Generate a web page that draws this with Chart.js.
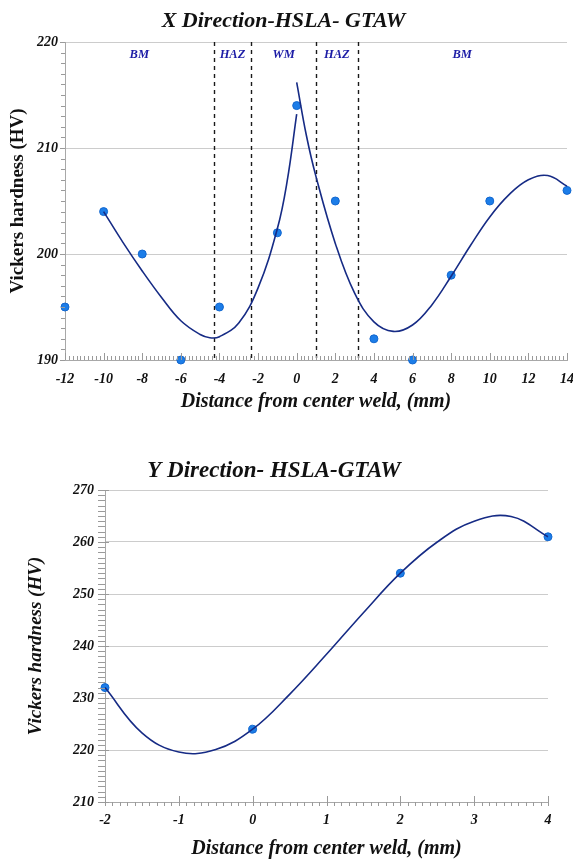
<!DOCTYPE html>
<html>
<head>
<meta charset="utf-8">
<script src="https://cdn.jsdelivr.net/npm/chart.js@4"></script>
<style>
  html, body { margin: 0; padding: 0; background: #fff; }
  canvas { display: block; }
</style>
</head>
<body>
<canvas id="chartX" width="573" height="420"></canvas>
<canvas id="chartY" width="573" height="441"></canvas>
<script>
// X direction: measured hardness
const distX = [-12, -10, -8, -6, -4, -1, 0, 2, 4, 6, 8, 10, 14];
const hvX = [195, 204, 200, 190, 195, 202, 214, 205, 192, 190, 198, 205, 206];

// X direction: fitted curves
const fitLeftDist = [-10, -9, -8, -7, -6, -5, -4.5, -4, -3, -2, -1, -0.5, 0];
const fitLeftHv = [204, 201.1, 198.4, 195.9, 193.7, 192.4, 192.1, 192.2, 193.5, 196.8, 202.4, 206.8, 213.2];
const fitRightDist = [0, 0.5, 1, 2, 3, 4, 5, 6, 7, 8, 9, 10, 11, 12, 13, 14];
const fitRightHv = [216.2, 211.2, 207.3, 201.0, 196.3, 193.6, 192.7, 193.3, 195.2, 197.9, 200.8, 203.5, 205.6, 207.0, 207.4, 206.4];

// weld zones
const zoneBounds = [-4.3, -2.35, 1.0, 3.15];
const zoneNames = ['BM', 'HAZ', 'WM', 'HAZ', 'BM'];

// Y direction: measured hardness
const distY = [-2, 0, 2, 4];
const hvY = [232, 224, 254, 261];

// Y direction: fitted curve
const fitYDist = [-2, -1.5, -1, -0.5, 0, 0.5, 1, 1.5, 2, 2.5, 3, 3.5, 4];
const fitYHv = [232, 223.3, 219.6, 220.1, 224, 230.7, 238.4, 246.4, 254, 260, 264, 264.9, 261];

Chart.defaults.font.family = "'Liberation Serif', 'Times New Roman', serif";
Chart.defaults.color = '#111';

const toXY = (xs, ys) => xs.map((x, i) => ({ x, y: ys[i] }));

function fitLine(xs, ys) {
    return {
        type: 'line',
        data: toXY(xs, ys),
        borderColor: '#162b85',
        borderWidth: 1.6,
        pointRadius: 0,
        tension: 0.4,
        fill: false,
        clip: false,
    };
}

function pointSet(xs, ys) {
    return {
        type: 'scatter',
        data: toXY(xs, ys),
        backgroundColor: '#1c7de8',
        borderColor: '#1267cf',
        borderWidth: 1,
        pointRadius: 4,
        clip: false,
    };
}

// small tick marks along both axes
const minorTicks = {
    id: 'minorTicks',
    afterDraw(chart, args, opts) {
        const ctx = chart.ctx;
        const area = chart.chartArea;
        ctx.save();
        ctx.strokeStyle = opts.color || '#999';
        ctx.lineWidth = 1;
        ['x', 'y'].forEach(id => {
            const o = opts[id];
            if (!o) return;
            const s = chart.scales[id];
            const n = Math.round((s.max - s.min) / o.minor);
            ctx.beginPath();
            for (let i = 0; i <= n; i++) {
                const v = s.min + i * o.minor;
                const r = v / o.major;
                const major = Math.abs(r - Math.round(r)) < 1e-6;
                const [inside, outside] = major ? o.majorLen : o.minorLen;
                const p = Math.round(s.getPixelForValue(v)) + 0.5;
                if (id === 'x') {
                    ctx.moveTo(p, area.bottom - inside);
                    ctx.lineTo(p, area.bottom + outside);
                } else {
                    ctx.moveTo(area.left + inside, p);
                    ctx.lineTo(area.left - outside, p);
                }
            }
            ctx.stroke();
        });
        ctx.restore();
    }
};

// dashed zone boundaries with names
const zones = {
    id: 'zones',
    beforeDatasetsDraw(chart, args, opts) {
        if (!opts.bounds) return;
        const { ctx, chartArea: area } = chart;
        const xs = chart.scales.x;
        ctx.save();
        ctx.strokeStyle = '#1a1a1a';
        ctx.lineWidth = 1.4;
        ctx.setLineDash([4, 4]);
        opts.bounds.forEach(b => {
            const px = Math.round(xs.getPixelForValue(b)) + 0.5;
            ctx.beginPath();
            ctx.moveTo(px, area.top);
            ctx.lineTo(px, area.bottom);
            ctx.stroke();
        });
        const edges = [xs.min, ...opts.bounds, xs.max];
        ctx.fillStyle = '#1c1ca6';
        ctx.font = "italic bold 12.5px 'Liberation Serif', serif";
        ctx.textAlign = 'center';
        ctx.textBaseline = 'middle';
        opts.names.forEach((name, i) => {
            const mid = (edges[i] + edges[i + 1]) / 2;
            ctx.fillText(name, xs.getPixelForValue(mid), area.top + 13);
        });
        ctx.restore();
    }
};

const tickFont = { size: 14, weight: 'bold', style: 'italic' };
const axisTitleFont = { size: 20, weight: 'bold', style: 'italic' };

new Chart(document.getElementById('chartX'), {
    type: 'scatter',
    data: {
        datasets: [
            fitLine(fitLeftDist, fitLeftHv),
            fitLine(fitRightDist, fitRightHv),
            pointSet(distX, hvX),
        ],
    },
    options: {
        responsive: false,
        animation: false,
        layout: { padding: { right: 6 } },
        plugins: {
            legend: { display: false },
            tooltip: { enabled: false },
            title: {
                display: true,
                text: 'X Direction-HSLA- GTAW',
                font: { size: 22, weight: 'bold', style: 'italic' },
                color: '#111',
                padding: { top: 8, bottom: 7.6 },
            },
            minorTicks: {
                color: '#9a9a9a',
                x: { minor: 0.2, major: 2, minorLen: [4, 0], majorLen: [7, 0] },
                y: { minor: 1, major: 10, minorLen: [0, 4], majorLen: [0, 5] },
            },
            zones: { bounds: zoneBounds, names: zoneNames },
        },
        scales: {
            x: {
                type: 'linear',
                min: -12,
                max: 14,
                ticks: { stepSize: 2, padding: 11, font: tickFont, autoSkip: false, maxRotation: 0 },
                grid: { display: false, drawTicks: false },
                border: { color: '#a8a8a8' },
                title: {
                    display: true,
                    text: 'Distance from center weld, (mm)',
                    font: axisTitleFont,
                    padding: { top: 0, bottom: 6 },
                },
                afterFit(s) { s.height = 60; s.paddingRight = 0; s.paddingLeft = 0; },
            },
            y: {
                min: 190,
                max: 220,
                ticks: { stepSize: 10, padding: 7, font: tickFont },
                grid: { color: '#cccccc', drawTicks: false },
                border: { color: '#a8a8a8' },
                title: {
                    display: true,
                    text: 'Vickers hardness (HV)',
                    font: { size: 19, weight: 'bold' },
                    padding: { top: 7 },
                },
                afterFit(s) { s.width = 65; },
            },
        },
    },
    plugins: [minorTicks, zones],
});

new Chart(document.getElementById('chartY'), {
    type: 'scatter',
    data: {
        datasets: [
            fitLine(fitYDist, fitYHv),
            pointSet(distY, hvY),
        ],
    },
    options: {
        responsive: false,
        animation: false,
        layout: { padding: { right: 25 } },
        plugins: {
            legend: { display: false },
            tooltip: { enabled: false },
            title: {
                display: true,
                text: 'Y Direction- HSLA-GTAW',
                font: { size: 23, weight: 'bold', style: 'italic' },
                color: '#111',
                padding: { top: 37, bottom: 5.4 },
            },
            minorTicks: {
                color: '#9a9a9a',
                x: { minor: 0.1, major: 1, minorLen: [0, 4], majorLen: [6, 4] },
                y: { minor: 1, major: 10, minorLen: [0, 7], majorLen: [4, 7] },
            },
        },
        scales: {
            x: {
                type: 'linear',
                min: -2,
                max: 4,
                ticks: { stepSize: 1, padding: 10, font: tickFont, autoSkip: false, maxRotation: 0 },
                grid: { display: false, drawTicks: false },
                border: { color: '#a8a8a8' },
                title: {
                    display: true,
                    text: 'Distance from center weld, (mm)',
                    font: axisTitleFont,
                    padding: { top: 0, bottom: 0 },
                },
                afterFit(s) { s.height = 59; s.paddingRight = 0; s.paddingLeft = 0; },
            },
            y: {
                min: 210,
                max: 270,
                ticks: { stepSize: 10, padding: 11, font: tickFont },
                grid: { color: '#cccccc', drawTicks: false },
                border: { color: '#a8a8a8' },
                title: {
                    display: true,
                    text: 'Vickers hardness (HV)',
                    font: { size: 19, weight: 'bold', style: 'italic' },
                    padding: { top: 25 },
                },
                afterFit(s) { s.width = 105; },
            },
        },
    },
    plugins: [minorTicks],
});
</script>
</body>
</html>
